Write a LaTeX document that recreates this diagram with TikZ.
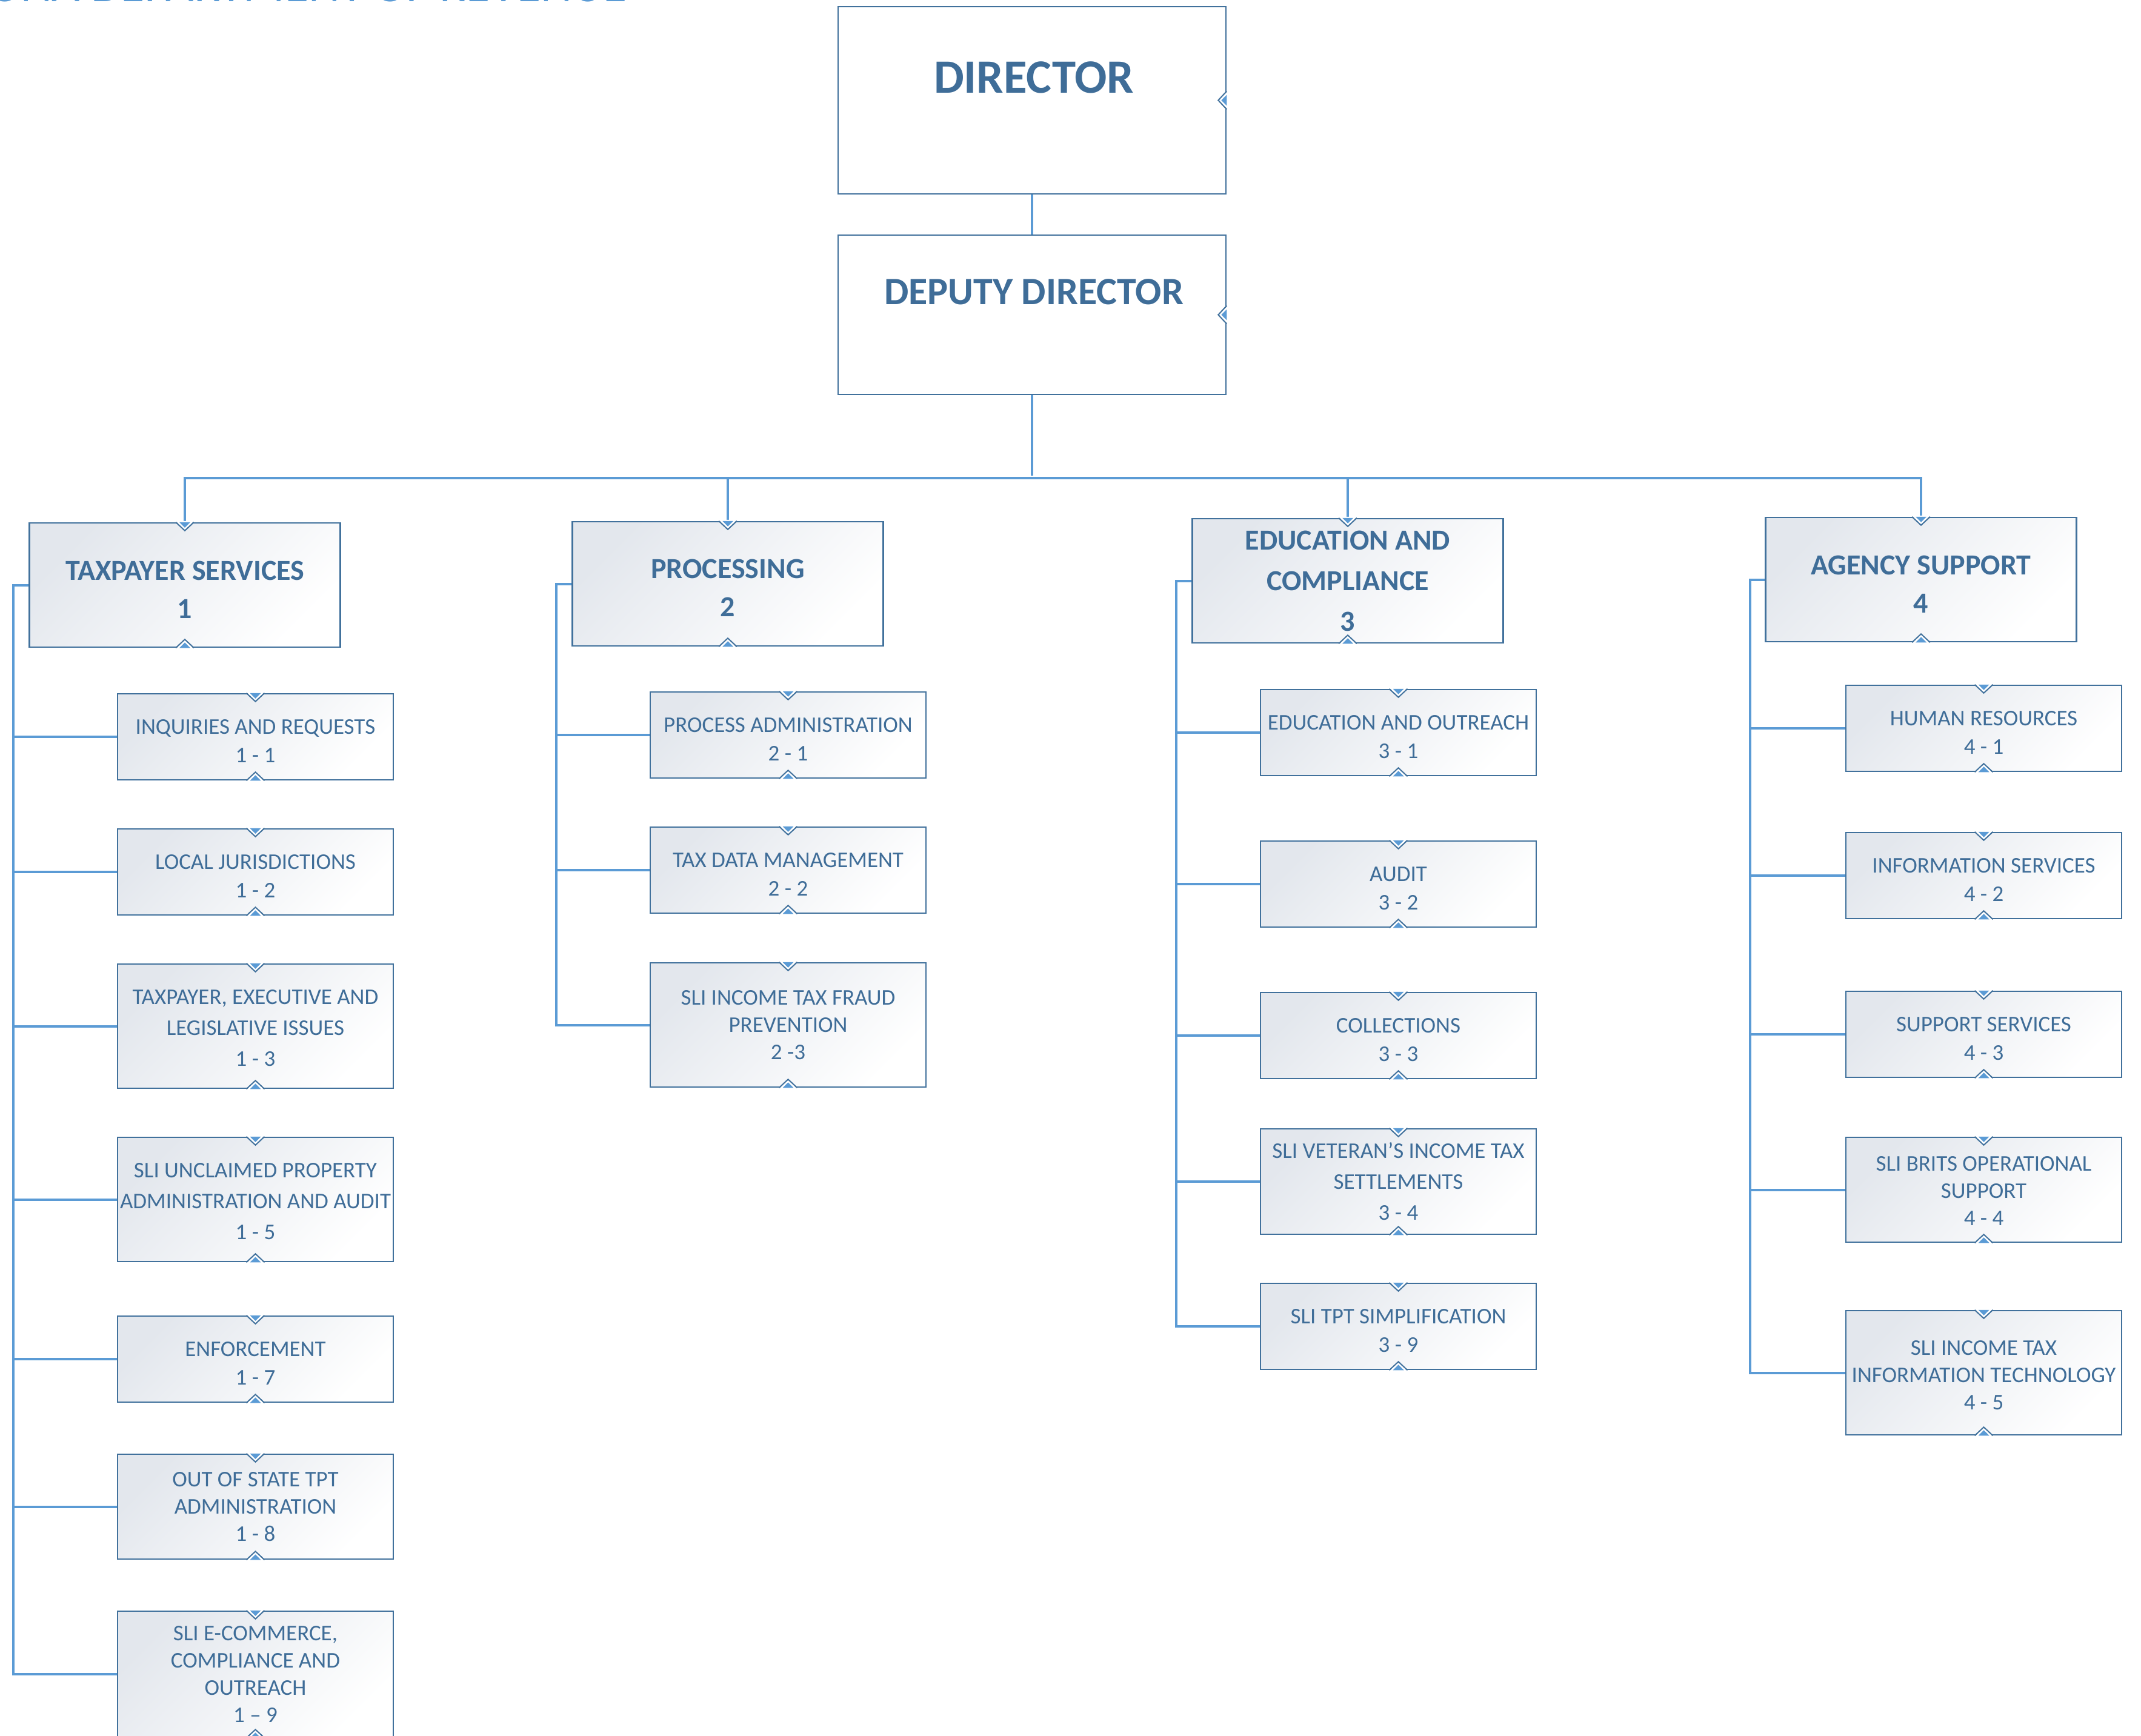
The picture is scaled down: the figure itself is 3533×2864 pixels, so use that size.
\documentclass[tikz,border=0pt]{standalone}
\usepackage{fontspec}
\setmainfont{Carlito}
\definecolor{txt}{HTML}{3F6D98}
\definecolor{bord}{HTML}{41719C}
\definecolor{connc}{HTML}{5B9BD5}
\definecolor{fillg}{HTML}{E3E7ED}
\tikzset{
  connline/.style={draw=connc, line width=4},
  subbox/.style={draw=bord, line width=2.5, top color=fillg, bottom color=white, shading angle=45,
    minimum width=455, inner sep=0},
  headbox/.style={subbox, minimum width=513, minimum height=205},
  lt/.style={text=txt, align=center, inner sep=0, font=\fontsize{37}{47}\selectfont},
  lh/.style={text=txt, align=center, inner sep=0, font=\bfseries\fontsize{48}{63}\selectfont},
  bigbox/.style={draw=bord, line width=2.5, fill=white, minimum width=640, inner sep=0},
  bigtext/.style={text=txt, inner sep=0},
  topmk/.pic={
    \fill[white] (-15,-2) -- (15,-2) -- (0,14) -- cycle;
    \draw[bord, line width=2] (-15,0) -- (0,14) -- (15,0);
    \fill[connc] (-9,0) -- (9,0) -- (0,9) -- cycle;
  },
  botmk/.pic={
    \fill[white] (-15,2) -- (15,2) -- (0,-14) -- cycle;
    \draw[bord, line width=2] (-15,0) -- (0,-14) -- (15,0);
    \fill[connc] (-9,0) -- (9,0) -- (0,-9) -- cycle;
  },
  rightmk/.pic={
    \fill[white] (2,-15) -- (2,15) -- (-14,0) -- cycle;
    \draw[bord, line width=2] (0,-15) -- (-14,0) -- (0,15);
    \fill[connc] (0,-9) -- (0,9) -- (-9,0) -- cycle;
  },
}
\begin{document}
\begin{tikzpicture}[x=1pt, y=-1pt]
\useasboundingbox (0,0) rectangle (3533,2864);

% title (mostly cut off at the top)
\node[anchor=base east, text=connc, inner sep=0, font=\fontsize{80}{80}\selectfont] (title) at (1035,2) {ARIZONA DEPARTMENT OF REVENUE};

% top boxes
\node[bigbox, minimum height=309] (dir) at (1703,165.5) {};
\node[bigbox, minimum height=263] (dep) at (1703,519.5) {};
\node[bigtext, font=\bfseries\fontsize{79}{79}\selectfont] (dirt) at (1706,128) {DIRECTOR};
\node[bigtext, font=\bfseries\fontsize{64}{64}\selectfont] (dept) at (1706,482) {DEPUTY DIRECTOR};

% level 2 boxes
\node[headbox, label={[lh, yshift=-8pt]center:{TAXPAYER SERVICES\\1}}] (ts) at (305,965.5) {};
\node[headbox, label={[lh, yshift=-7pt]center:{PROCESSING\\2}}] (pr) at (1201,963.5) {};
\node[headbox, label={[lh, font=\bfseries\fontsize{48}{67}\selectfont]center:{EDUCATION AND\\COMPLIANCE\\3}}] (ed) at (2224,958.5) {};
\node[headbox, label={[lh, yshift=-8pt]center:{AGENCY SUPPORT\\4}}] (ag) at (3170,956.5) {};

% sub boxes column 1
\node[subbox, minimum height=142, label={[lt, yshift=-7pt]center:{INQUIRIES AND REQUESTS\\1 - 1}}] (b11) at (421.5,1216) {};
\node[subbox, minimum height=142, label={[lt, yshift=-7pt]center:{LOCAL JURISDICTIONS\\1 - 2}}] (b12) at (421.5,1439) {};
\node[subbox, minimum height=205, label={[lt, yshift=-3pt, font=\fontsize{37}{51}\selectfont]center:{TAXPAYER, EXECUTIVE AND\\LEGISLATIVE ISSUES\\1 - 3}}] (b13) at (421.5,1693.5) {};
\node[subbox, minimum height=205, label={[lt, yshift=-3pt, font=\fontsize{37}{51}\selectfont]center:{SLI UNCLAIMED PROPERTY\\ADMINISTRATION AND AUDIT\\1 - 5}}] (b15) at (421.5,1979.5) {};
\node[subbox, minimum height=142, label={[lt, yshift=-7pt]center:{ENFORCEMENT\\1 - 7}}] (b17) at (421.5,2243) {};
\node[subbox, minimum height=173, label={[lt, font=\fontsize{37}{45}\selectfont]center:{OUT OF STATE TPT\\ADMINISTRATION\\1 - 8}}] (b18) at (421.5,2486.5) {};
\node[subbox, minimum height=208, label={[lt, font=\fontsize{37}{45}\selectfont]center:{SLI E-COMMERCE,\\COMPLIANCE AND\\OUTREACH\\1 – 9}}] (b19) at (421.5,2763) {};

% column 2
\node[subbox, minimum height=142, label={[lt, yshift=-7pt]center:{PROCESS ADMINISTRATION\\2 - 1}}] (b21) at (1300.5,1213) {};
\node[subbox, minimum height=142, label={[lt, yshift=-7pt]center:{TAX DATA MANAGEMENT\\2 - 2}}] (b22) at (1300.5,1436) {};
\node[subbox, minimum height=205, label={[lt, font=\fontsize{37}{45}\selectfont]center:{SLI INCOME TAX FRAUD\\PREVENTION\\2 -3}}] (b23) at (1300.5,1691.5) {};

% column 3
\node[subbox, minimum height=142, label={[lt, yshift=-7pt]center:{EDUCATION AND OUTREACH\\3 - 1}}] (b31) at (2307.5,1209) {};
\node[subbox, minimum height=142, label={[lt, yshift=-7pt]center:{AUDIT\\3 - 2}}] (b32) at (2307.5,1459) {};
\node[subbox, minimum height=142, label={[lt, yshift=-7pt]center:{COLLECTIONS\\3 - 3}}] (b33) at (2307.5,1709) {};
\node[subbox, minimum height=174, label={[lt, font=\fontsize{37}{51}\selectfont]center:{SLI VETERAN’S INCOME TAX\\SETTLEMENTS\\3 - 4}}] (b34) at (2307.5,1950) {};
\node[subbox, minimum height=142, label={[lt, yshift=-7pt]center:{SLI TPT SIMPLIFICATION\\3 - 9}}] (b39) at (2307.5,2189) {};

% column 4
\node[subbox, minimum height=142, label={[lt, yshift=-7pt]center:{HUMAN RESOURCES\\4 - 1}}] (b41) at (3273.5,1202) {};
\node[subbox, minimum height=142, label={[lt, yshift=-7pt]center:{INFORMATION SERVICES\\4 - 2}}] (b42) at (3273.5,1445) {};
\node[subbox, minimum height=142, label={[lt, yshift=-7pt]center:{SUPPORT SERVICES\\4 - 3}}] (b43) at (3273.5,1707) {};
\node[subbox, minimum height=173, label={[lt, yshift=-2pt, font=\fontsize{37}{45}\selectfont]center:{SLI BRITS OPERATIONAL\\SUPPORT\\4 - 4}}] (b44) at (3273.5,1963.5) {};
\node[subbox, minimum height=205, label={[lt, yshift=-4pt, font=\fontsize{37}{45}\selectfont]center:{SLI INCOME TAX\\INFORMATION TECHNOLOGY\\4 - 5}}] (b45) at (3273.5,2265.5) {};

% connectors
\coordinate (busy) at (0,789);
\draw[connline] (dir.south) -- (dep.north);
\draw[connline] (dep.south) -- ++(0,133);
\draw[connline] (ts.north) -- (ts.north |- busy) -- (ag.north |- busy) -- (ag.north);
\draw[connline] (pr.north |- busy) -- (pr.north);
\draw[connline] (ed.north |- busy) -- (ed.north);
\foreach \c in {b11,b12,b13,b15,b17,b18,b19}{\draw[connline] (ts.west) -- ++(-25,0) |- (\c.west);}
\foreach \c in {b21,b22,b23}{\draw[connline] (pr.west) -- ++(-25,0) |- (\c.west);}
\foreach \c in {b31,b32,b33,b34,b39}{\draw[connline] (ed.west) -- ++(-25,0) |- (\c.west);}
\foreach \c in {b41,b42,b43,b44,b45}{\draw[connline] (ag.west) -- ++(-24,0) |- (\c.west);}

% markers
\foreach \c in {ts,pr,ed,ag,b11,b12,b13,b15,b17,b18,b19,b21,b22,b23,b31,b32,b33,b34,b39,b41,b42,b43,b44,b45}{
  \pic at (\c.north) {topmk};
  \pic at (\c.south) {botmk};
}
\pic at (dir.east) {rightmk};
\pic at (dep.east) {rightmk};
\end{tikzpicture}
\end{document}
